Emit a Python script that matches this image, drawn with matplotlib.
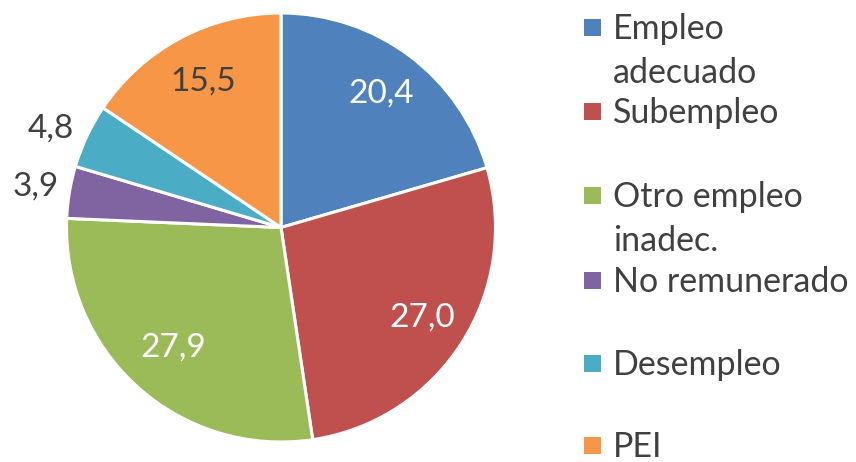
import matplotlib
matplotlib.use("Agg")
import matplotlib.pyplot as plt
from matplotlib.patches import Rectangle
import numpy as np

categorias = ["Empleo adecuado", "Subempleo", "Otro empleo inadec.", "No remunerado", "Desempleo", "PEI"]
etiquetas_leyenda = [["Empleo", "adecuado"], ["Subempleo"], ["Otro empleo", "inadec."],
                     ["No remunerado"], ["Desempleo"], ["PEI"]]
valores = [20.4, 27.0, 27.9, 3.9, 4.8, 15.5]
colores = ["#4F81BD", "#C0504D", "#9BBB59", "#8064A2", "#4BACC6", "#F79646"]
color_texto = ["white", "white", "white", "#404040", "#404040", "#404040"]
dist_texto = [0.78, 0.78, 0.75, 1.16, 1.17, 0.77]
giro_texto = [0, 0, 0, 0, 2, 0]  # small angular nudge (deg) for label placement

plt.rcParams['font.family'] = ['Lato', 'DejaVu Sans']
W, H = 856, 462
fig = plt.figure(figsize=(W / 100, H / 100), dpi=100)

# pie centred at (281, 227.5) px, radius ~214.5 px
cx, cy, r = 281, 227.5, 214.5
ax = fig.add_axes([(cx - r) / W, (H - cy - r) / H, 2 * r / W, 2 * r / H])
wedges, _ = ax.pie(valores, colors=colores, startangle=90, counterclock=False, radius=1,
                   wedgeprops=dict(edgecolor="white", linewidth=2.2))
ax.set_xlim(-1, 1)
ax.set_ylim(-1, 1)
ax.set_axis_off()

for w, v, c, d, g in zip(wedges, valores, color_texto, dist_texto, giro_texto):
    ang = np.deg2rad((w.theta1 + w.theta2) / 2 + g)
    ax.text(d * np.cos(ang), d * np.sin(ang), f"{v:.1f}".replace(".", ","),
            ha="center", va="center", color=c, fontsize=24, clip_on=False)

# legend drawn by hand, like Excel's wrapped legend
base_y = [39, 123, 207, 292, 375, 457]
for lineas, col, by in zip(etiquetas_leyenda, colores, base_y):
    fig.patches.append(Rectangle((584 / W, 1 - (by - 3) / H), 17 / W, 17 / H,
                                 transform=fig.transFigure, facecolor=col, edgecolor="none"))
    for k, txt in enumerate(lineas):
        fig.text(613 / W, 1 - (by + 44 * k) / H, txt, ha="left", va="baseline",
                 fontsize=24.5, color="#404040")

fig.savefig("out.png", dpi=100)
